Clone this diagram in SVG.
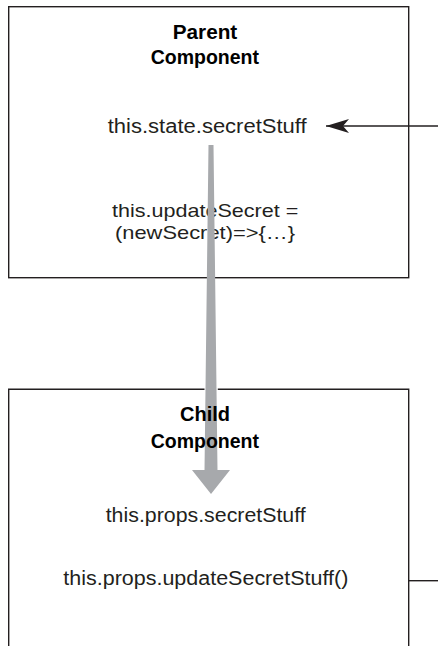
<svg xmlns="http://www.w3.org/2000/svg" width="438" height="646" viewBox="0 0 438 646">
<style>
.box{fill:none;stroke:#231f20;stroke-width:1.4}
.t{font-family:"Liberation Sans",Arial,sans-serif;font-size:20px;fill:#231f20}
.s{font-size:19px}
.h{font-family:"Liberation Sans",Arial,sans-serif;font-size:20px;font-weight:bold;fill:#000}
.ln{stroke:#231f20;stroke-width:1.4;fill:none}
.gray{fill:#a7a9ac}
</style>
<defs>
<marker id="ah" markerUnits="userSpaceOnUse" markerWidth="26" markerHeight="16" refX="23" refY="7" orient="auto">
<path d="M23,7 L0,0 L6,7 L0,14 Z" fill="#231f20"/>
</marker>
</defs>
<rect width="438" height="646" fill="#fff"/>
<g id="parent">
<rect class="box" x="8.7" y="6.7" width="400" height="271"/>
<text class="h" x="172.7" y="39.3" textLength="64.6" lengthAdjust="spacingAndGlyphs">Parent</text>
<text class="h" x="150.7" y="64" textLength="108.3" lengthAdjust="spacingAndGlyphs">Component</text>
<text class="t" x="107.7" y="132.7" textLength="199" lengthAdjust="spacingAndGlyphs">this.state.secretStuff</text>
<text class="t s" x="112" y="216.6" textLength="186.3" lengthAdjust="spacingAndGlyphs">this.updateSecret =</text>
<text class="t s" x="115" y="238.6" textLength="180" lengthAdjust="spacingAndGlyphs">(newSecret)=&gt;{…}</text>
</g>
<g id="connectors">
<path class="ln" d="M438,126 L326,126" marker-end="url(#ah)"/>
<path class="ln" d="M409,580.7 L438,580.7"/>
<polygon class="gray" points="208.5,145 213.5,145 217.5,470 230,470 211,494 192,470 204.5,470"/>
</g>
<g id="child">
<path class="box" d="M8.7,660 L8.7,389.3 L204.5,389.3 M217.8,389.3 L408.7,389.3 L408.7,660"/>
<text class="h" x="180" y="420.7" textLength="50" lengthAdjust="spacingAndGlyphs">Child</text>
<text class="h" x="150.7" y="447.7" textLength="108.3" lengthAdjust="spacingAndGlyphs">Component</text>
<text class="t" x="105.7" y="522.3" textLength="200" lengthAdjust="spacingAndGlyphs">this.props.secretStuff</text>
<text class="t" x="63.3" y="585" textLength="285" lengthAdjust="spacingAndGlyphs">this.props.updateSecretStuff()</text>
</g>
</svg>
